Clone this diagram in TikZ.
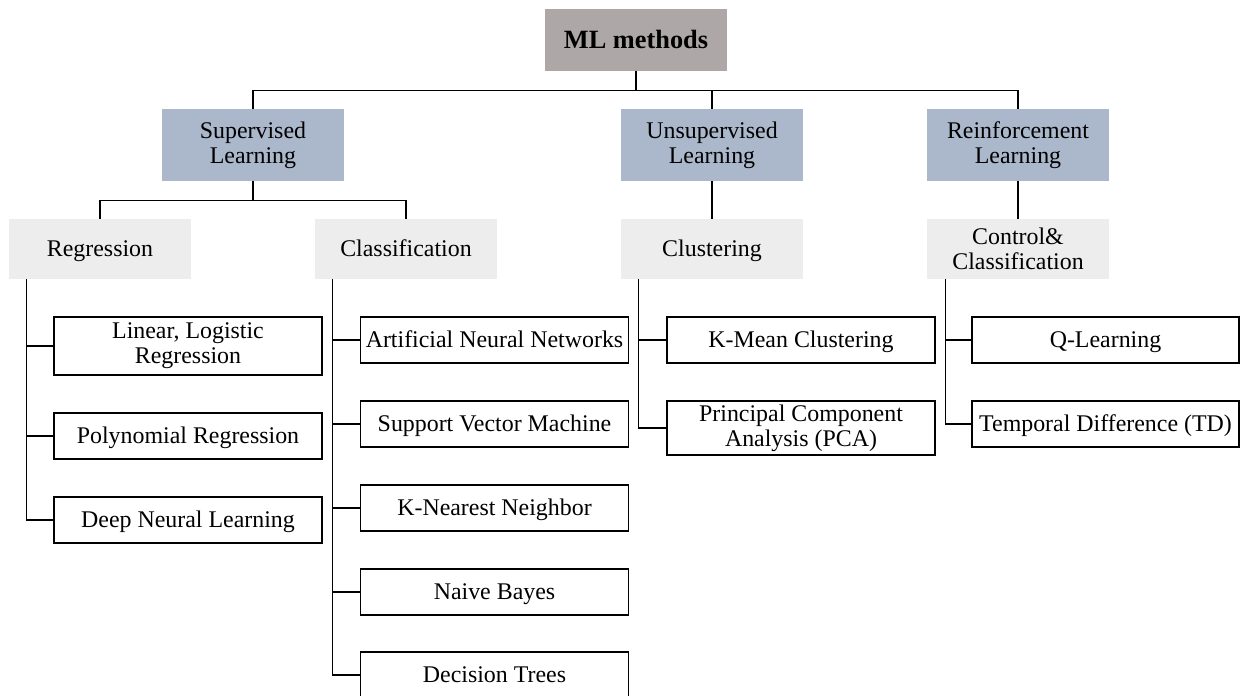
\documentclass[tikz,border=0pt]{standalone}
\usepackage{fontspec}
\setmainfont{Liberation Serif}
\definecolor{mlgray}{HTML}{ADA8A7}
\definecolor{learnblue}{HTML}{ABB7CB}
\definecolor{taskgray}{HTML}{EDEDED}
\tikzset{
  mlbox/.style={rectangle,fill=mlgray,inner sep=0pt,minimum width=3.64cm,minimum height=1.24cm,text height=11.2pt,text depth=1.5pt,font=\fontsize{15}{16}\selectfont\bfseries},
  learnbox/.style={rectangle,fill=learnblue,inner sep=0pt,minimum width=3.64cm,minimum height=1.44cm,align=center,font=\fontsize{13.6}{14.1}\selectfont},
  taskbox/.style={rectangle,fill=taskgray,inner sep=0pt,minimum width=3.64cm,minimum height=1.2cm,align=center,font=\fontsize{13.6}{14.1}\selectfont},
  leafbox/.style={draw,line width=0.9pt,rectangle,inner sep=0pt,minimum width=5.36cm,minimum height=0.92cm,align=center,font=\fontsize{13.6}{14.1}\selectfont},
  oneline/.style={text height=10.2pt,text depth=1.4pt},
  link/.style={line width=0.7pt}
}
\begin{document}
\begin{tikzpicture}[x=0.02cm,y=-0.02cm]
                \useasboundingbox (0,0) rectangle (1240,696);
                \node[mlbox] (ml) at (636,40) {ML methods};
                \node[learnbox] (sup) at (253,145) {Supervised\\Learning};
                \node[learnbox] (uns) at (712,145) {Unsupervised\\Learning};
                \node[learnbox] (rei) at (1018,145) {Reinforcement\\Learning};
                \node[taskbox,oneline] (reg) at (100,249) {Regression};
                \node[taskbox,oneline] (cla) at (406,249) {Classification};
                \node[taskbox,oneline] (clu) at (712,249) {Clustering};
                \node[taskbox] (con) at (1018,249) {Control\&\\Classification};

                \node[leafbox,minimum height=1.16cm] (lin) at (188,346) {Linear, Logistic\\Regression};
                \node[leafbox,oneline] (poly) at (188,436) {Polynomial Regression};
                \node[leafbox,oneline] (deep) at (188,520) {Deep Neural Learning};
                \node[leafbox,oneline] (ann) at (494.5,340) {Artificial Neural Networks};
                \node[leafbox,oneline] (svm) at (494.5,424) {Support Vector Machine};
                \node[leafbox,oneline] (knn) at (494.5,508) {K-Nearest Neighbor};
                \node[leafbox,oneline] (nb) at (494.5,592) {Naive Bayes};
                \node[leafbox,oneline] (dt) at (494.5,675) {Decision Trees};
                \node[leafbox,oneline] (km) at (801,340) {K-Mean Clustering};
                \node[leafbox,minimum height=1.08cm] (pca) at (801,428) {Principal Component\\Analysis (PCA)};
                \node[leafbox,oneline,minimum width=5.34cm] (ql) at (1105.5,340) {Q-Learning};
                \node[leafbox,oneline,minimum width=5.34cm] (td) at (1105.5,424) {Temporal Difference (TD)};

                \draw[link] (ml.south) -- ++(0,19) -| (sup.north);
                \draw[link] (ml.south) -- ++(0,19) -| (uns.north);
                \draw[link] (ml.south) -- ++(0,19) -| (rei.north);
                \draw[link] (sup.south) -- ++(0,19) -| (reg.north);
                \draw[link] (sup.south) -- ++(0,19) -| (cla.north);
                \draw[link] (uns) -- (clu);
                \draw[link] (rei) -- (con);

                \draw[link] (reg.south west) ++(18,0) |- (lin.west);
                \draw[link] (reg.south west) ++(18,0) |- (poly.west);
                \draw[link] (reg.south west) ++(18,0) |- (deep.west);
                \draw[link] (cla.south west) ++(18,0) |- (ann.west);
                \draw[link] (cla.south west) ++(18,0) |- (svm.west);
                \draw[link] (cla.south west) ++(18,0) |- (knn.west);
                \draw[link] (cla.south west) ++(18,0) |- (nb.west);
                \draw[link] (cla.south west) ++(18,0) |- (dt.west);
                \draw[link] (clu.south west) ++(18,0) |- (km.west);
                \draw[link] (clu.south west) ++(18,0) |- (pca.west);
                \draw[link] (con.south west) ++(19,0) |- (ql.west);
                \draw[link] (con.south west) ++(19,0) |- (td.west);
            \end{tikzpicture}
\end{document}
